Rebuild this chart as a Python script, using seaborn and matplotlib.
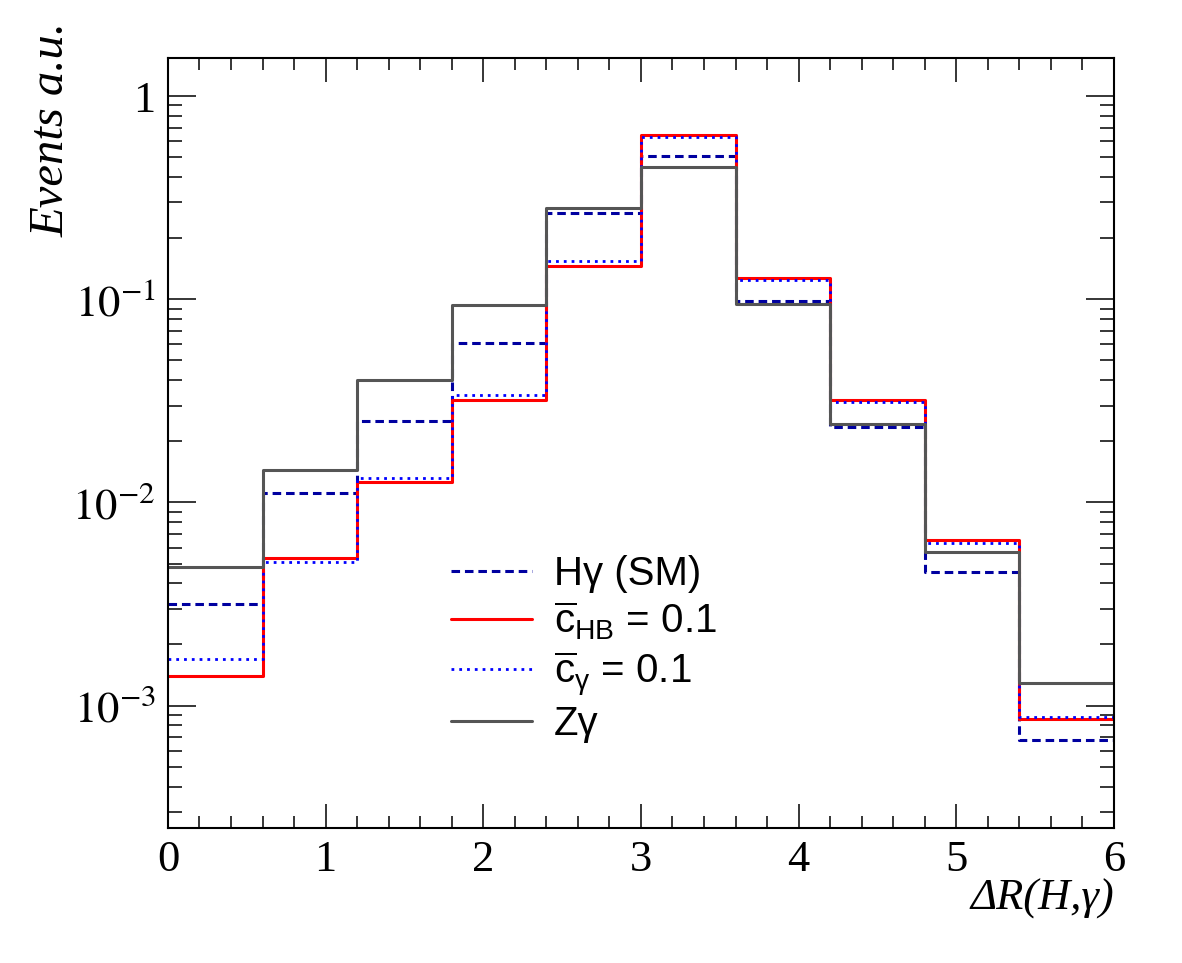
import numpy as np
import pandas as pd
import matplotlib
matplotlib.use('Agg')
import matplotlib.pyplot as plt
import seaborn as sns
from matplotlib.ticker import MultipleLocator, LogLocator, FuncFormatter, NullFormatter

# bin edges of Delta R(H, gamma)
bin_edges = [0.0, 0.6, 1.2, 1.8, 2.4, 3.0, 3.6, 4.2, 4.8, 5.4, 6.0]

# normalised event fractions per bin
h_sm = [0.00315, 0.0111, 0.0253, 0.0607, 0.267, 0.509, 0.098, 0.0236, 0.00456, 0.000675]
c_hb = [0.0014, 0.0053, 0.01268, 0.0321, 0.1466, 0.643, 0.1276, 0.0321, 0.00653, 0.00086]
c_gamma = [0.0017, 0.00507, 0.01316, 0.0337, 0.155, 0.629, 0.1247, 0.0313, 0.00634, 0.00088]
z_gamma = [0.0048, 0.0145, 0.0402, 0.0933, 0.281, 0.446, 0.095, 0.0244, 0.00568, 0.0013]

labels = ['H\u03b3 (SM)',
          r'$\overline{\mathrm{c}}_{\mathrm{HB}}$ = 0.1',
          r'$\overline{\mathrm{c}}_{\mathrm{\gamma}}$ = 0.1',
          'Z\u03b3']

sns.set_theme(style='ticks')
plt.rcParams['font.family'] = ['Liberation Serif', 'DejaVu Serif']
plt.rcParams['text.color'] = 'black'
plt.rcParams['axes.labelcolor'] = 'black'
plt.rcParams['mathtext.fontset'] = 'custom'
plt.rcParams['mathtext.rm'] = 'Liberation Sans'
plt.rcParams['mathtext.it'] = 'Liberation Sans:italic'
plt.rcParams['mathtext.bf'] = 'Liberation Sans:bold'

centers = [(a + b) / 2 for a, b in zip(bin_edges[:-1], bin_edges[1:])]
df = pd.DataFrame({'dr': centers, 'sm': h_sm, 'hb': c_hb, 'cg': c_gamma, 'zg': z_gamma})

fig = plt.figure(figsize=(11.82, 9.63), dpi=100)
ax = fig.add_axes([0.1421, 0.1402, 0.8003, 0.7996])

styles = [
    ('sm', '#0000a0', dict(linewidth=2.2, dashes=(2.8, 1.6))),
    ('hb', '#ff0000', dict(linewidth=2.2)),
    ('cg', '#0000ff', dict(linewidth=2.0, dashes=(1.0, 1.8))),
    ('zg', '#555555', dict(linewidth=2.2)),
]
for (col, color, kw), lab in zip(styles, labels):
    sns.histplot(data=df, x='dr', weights=col, bins=bin_edges, element='step',
                 fill=False, color=color, label=lab, ax=ax, **kw)

ax.set_yscale('log')
ax.set_xlim(0, 6)
ax.set_ylim(2.5e-4, 1.54)

# ROOT-like ticks: inward, on all sides
ax.xaxis.set_major_locator(MultipleLocator(1))
ax.xaxis.set_minor_locator(MultipleLocator(0.2))
ax.yaxis.set_major_locator(LogLocator(base=10))
ax.yaxis.set_minor_locator(LogLocator(base=10, subs=np.arange(2, 10)))
ax.yaxis.set_minor_formatter(NullFormatter())


def log_fmt(v, pos):
    e = int(round(np.log10(v)))
    if e == 0:
        return '1'
    return r'$10^{%d}$' % e


ax.yaxis.set_major_formatter(FuncFormatter(log_fmt))
ax.tick_params(axis='both', which='both', direction='in', top=True, right=True,
               width=1.1, color='black', labelcolor='black', labelsize=32, pad=9)
ax.tick_params(axis='x', which='major', length=17)
ax.tick_params(axis='x', which='minor', length=8.5)
ax.tick_params(axis='y', which='major', length=20)
ax.tick_params(axis='y', which='minor', length=10)
for t in ax.get_yticklabels() + ax.get_xticklabels():
    t.set_math_fontfamily('stix')
for s in ax.spines.values():
    s.set_linewidth(1.5)
    s.set_color('black')
    s.set_visible(True)

ax.set_xlabel('\u0394R(H,\u03b3)', loc='right', fontsize=32, style='italic', color='black')
ax.set_ylabel('Events a.u.', loc='top', fontsize=35, style='italic', color='black')
ax.xaxis.set_label_coords(1.0, -0.066)
ax.yaxis.set_label_coords(-0.100, 1.047)

leg = ax.legend(loc='upper left', bbox_to_anchor=(0.261, 0.402), frameon=False,
                prop={'family': 'Liberation Sans', 'size': 29},
                handlelength=2.0, handletextpad=0.55, labelspacing=0.17)
for t in leg.get_texts():
    t.set_color('black')

fig.savefig('out.png', dpi=100)
